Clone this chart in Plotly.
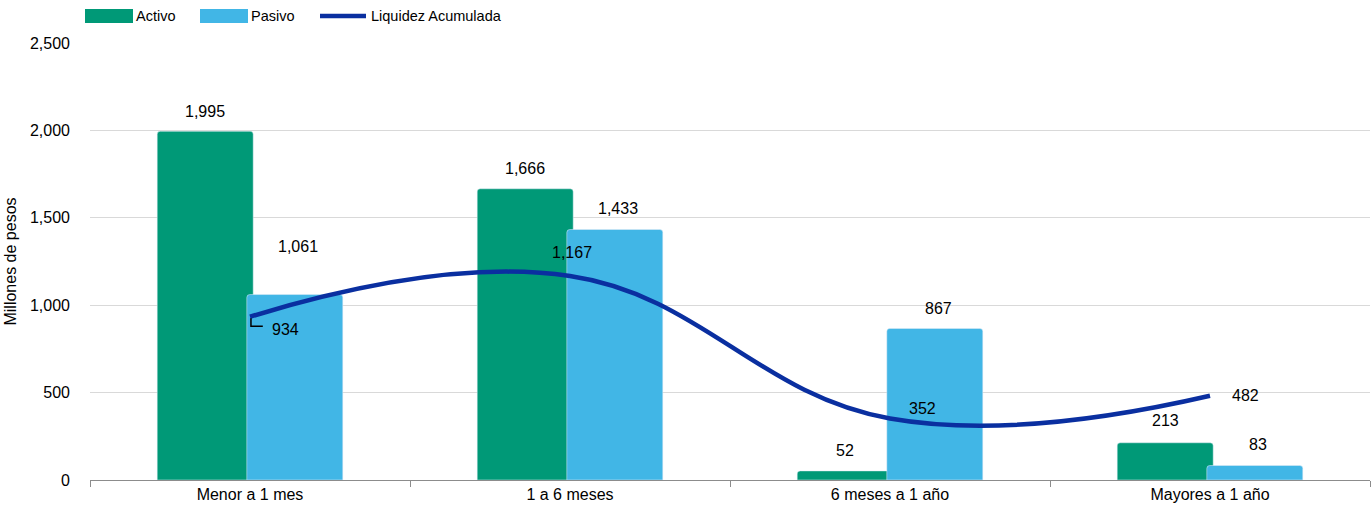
import plotly.graph_objects as go

categories = ["Menor a 1 mes", "1 a 6 meses", "6 meses a 1 año", "Mayores a 1 año"]
activo = [1995, 1666, 52, 213]
pasivo = [1061, 1433, 867, 83]
liquidez = [934, 1167, 352, 482]
y_ticks = [0, 500, 1000, 1500, 2000, 2500]

GREEN = "#009977"
BLUE = "#41B6E6"
NAVY = "#0A2FA0"
FONT = "Liberation Sans, Arial, sans-serif"

L, R, T, B = 90, 2, 43, 30
W, H = 1372, 510
PW, PH = W - L - R, H - T - B

def px_x(px):
    return (px - L) / PW

def px_y(py):
    return (H - B - py) / PH

fig = go.Figure()
fig.add_trace(go.Bar(x=categories, y=activo, name="Activo", marker=dict(color=GREEN, cornerradius=3),
                     width=0.3, offset=-0.29, showlegend=False))
fig.add_trace(go.Bar(x=categories, y=pasivo, name="Pasivo", marker=dict(color=BLUE, cornerradius=3),
                     width=0.3, offset=-0.01, showlegend=False))
fig.add_trace(go.Scatter(x=categories, y=liquidez, mode="lines", name="Liquidez Acumulada",
                         line=dict(color=NAVY, width=4.5, shape="spline", smoothing=1.2), showlegend=False))

annotations = []
act_shift = [20, 20, 20, 22]
pas_shift = [48, 21, 20, 21]
for i in range(len(categories)):
    annotations.append(dict(x=i - 0.14, y=activo[i], xref="x", yref="y", text=f"{activo[i]:,}",
                            showarrow=False, yshift=act_shift[i]))
    annotations.append(dict(x=i + 0.15, y=pasivo[i], xref="x", yref="y", text=f"{pasivo[i]:,}",
                            showarrow=False, yshift=pas_shift[i]))
liq_xs = [35, 2, 32, 35]
liq_ys = [-13, 24, 10, 0]
for i in range(len(categories)):
    annotations.append(dict(x=i, y=liquidez[i], xref="x", yref="y", text=f"{liquidez[i]:,}",
                            showarrow=False, xshift=liq_xs[i], yshift=liq_ys[i]))

# custom legend
legend_items = [("Activo", GREEN, "bar", 85), ("Pasivo", BLUE, "bar", 200), ("Liquidez Acumulada", NAVY, "line", 320)]
shapes = []
for name, col, kind, x0 in legend_items:
    if kind == "bar":
        shapes.append(dict(type="rect", xref="paper", yref="paper", x0=px_x(x0), x1=px_x(x0 + 48),
                           y0=px_y(23), y1=px_y(9), fillcolor=col, line=dict(width=0), layer="above"))
    else:
        shapes.append(dict(type="line", xref="paper", yref="paper", x0=px_x(x0), x1=px_x(x0 + 46),
                           y0=px_y(16), y1=px_y(16), line=dict(color=col, width=4.5)))
    annotations.append(dict(x=px_x(x0 + 49), y=px_y(16), xref="paper", yref="paper", text=name,
                            showarrow=False, xanchor="left", yanchor="middle", font=dict(size=14.5)))

# leader line for first liquidity label
shapes.append(dict(type="path", xref="x", yref="y",
                   path="M 0.003,925 L 0.003,880 L 0.04,880", line=dict(color="black", width=1.5)))

fig.update_layout(
    width=W, height=H,
    margin=dict(l=L, r=R, t=T, b=B),
    plot_bgcolor="white", paper_bgcolor="white",
    font=dict(family=FONT, size=16, color="black"),
    barmode="overlay",
    annotations=annotations,
    shapes=shapes,
    showlegend=False,
)
fig.update_xaxes(showline=True, linecolor="#8C8C8C", linewidth=1, ticks="outside", tickson="boundaries",
                 ticklen=6, tickcolor="#8C8C8C", showgrid=False, tickfont=dict(size=16),
                 range=[-0.5, 3.5])
fig.update_yaxes(range=[0, 2500], tickvals=y_ticks, tickformat=",", showgrid=True, gridcolor="#D9D9D9",
                 zeroline=False, showline=False, ticks="", ticklabelstandoff=19,
                 title=dict(text="Millones de pesos", font=dict(size=16), standoff=9), tickfont=dict(size=16))

fig.write_html("out.html")
